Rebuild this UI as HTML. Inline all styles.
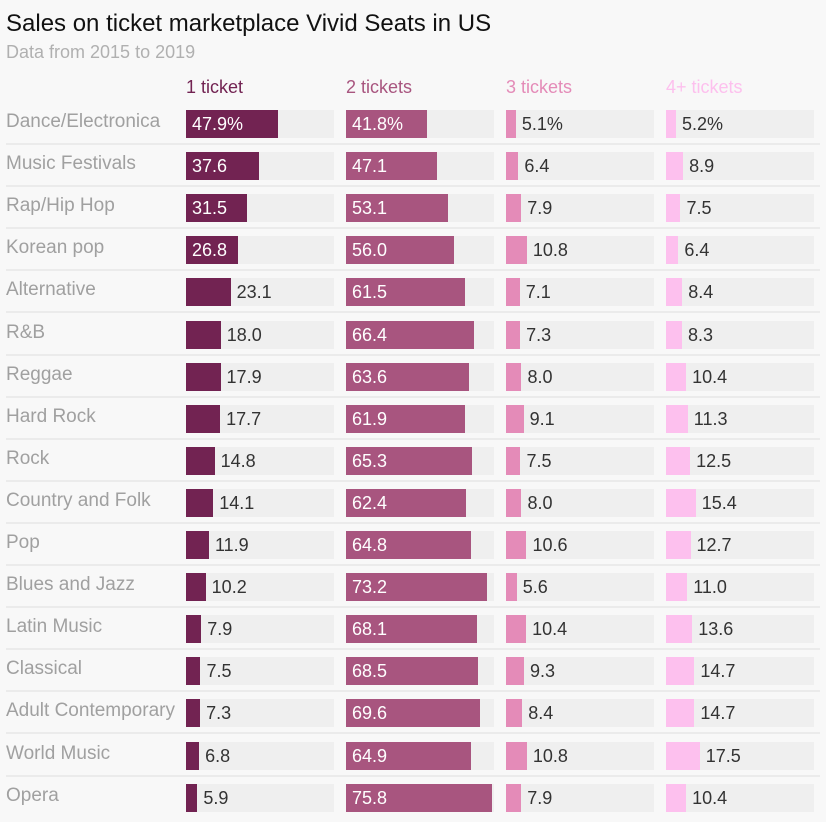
<!DOCTYPE html>
<html><head><meta charset="utf-8"><style>
body{margin:0;background:#f8f8f8;font-family:"Liberation Sans",sans-serif;}
#c{position:relative;width:826px;height:822px;overflow:hidden;}
.t{position:absolute;white-space:nowrap;}
</style></head><body>
<div id="c">
<div class="t" style="left:6px;top:10px;font-size:24px;color:#111;">Sales on ticket marketplace Vivid Seats in US</div>
<div class="t" style="left:6px;top:42px;font-size:18px;color:#b0b0b0;">Data from 2015 to 2019</div>
</div>
<script>
const categories=["Dance/Electronica","Music Festivals","Rap/Hip Hop","Korean pop","Alternative","R&B","Reggae","Hard Rock","Rock","Country and Folk","Pop","Blues and Jazz","Latin Music","Classical","Adult Contemporary","World Music","Opera"];
const seriesNames=["1 ticket","2 tickets","3 tickets","4+ tickets"];
const oneTicket=[47.9,37.6,31.5,26.8,23.1,18.0,17.9,17.7,14.8,14.1,11.9,10.2,7.9,7.5,7.3,6.8,5.9];
const twoTickets=[41.8,47.1,53.1,56.0,61.5,66.4,63.6,61.9,65.3,62.4,64.8,73.2,68.1,68.5,69.6,64.9,75.8];
const threeTickets=[5.1,6.4,7.9,10.8,7.1,7.3,8.0,9.1,7.5,8.0,10.6,5.6,10.4,9.3,8.4,10.8,7.9];
const fourTickets=[5.2,8.9,7.5,6.4,8.4,8.3,10.4,11.3,12.5,15.4,12.7,11.0,13.6,14.7,14.7,17.5,10.4];
const series=[oneTicket,twoTickets,threeTickets,fourTickets];
const colors=["#722352","#a8557f","#e48bb8","#fdc0ee"];
const headColors=["#722352","#a8557f","#e48bb8","#fdc0ee"];
const c=document.getElementById('c');
const colX=[186,346,506,666], trackW=148, pxPer=1.93;
const rowY=i=>110+i*42.1;
function x(v){return v*pxPer;}
function div(st,txt){const d=document.createElement('div');d.style.cssText='position:absolute;'+st;if(txt!=null)d.textContent=txt;c.appendChild(d);return d;}
seriesNames.forEach((n,j)=>{
 const h=div('left:'+colX[j]+'px;top:77px;font-size:18px;white-space:nowrap;color:'+headColors[j],n);
 
 
});
categories.forEach((cat,i)=>{
 const y=rowY(i);
 const l=div('left:6px;top:'+(y+1)+'px;font-size:19px;color:#a0a0a0;white-space:nowrap;',cat);
 
 
 if(i<categories.length-1){
  const s=div('left:6px;top:'+(y+33)+'px;width:814px;height:2px;background:#ebebeb;');
  
  
 }
 series.forEach((arr,j)=>{
  const v=arr[i];
  const tr=div('left:'+colX[j]+'px;top:'+y+'px;width:'+trackW+'px;height:28px;background:#efefef;');
  
  
  const w=x(v);
  const b=div('left:'+colX[j]+'px;top:'+y+'px;width:'+w+'px;height:28px;background:'+colors[j]+';');
  
  
  const txt=v.toFixed(1)+(i===0?'%':'');
  const inside=w>=50;
  const t=div('left:'+(colX[j]+(inside?6:w+6))+'px;top:'+(y+4)+'px;font-size:18px;white-space:nowrap;color:'+(inside?'#fff':'#333')+';',txt);
  
  
 });
});
</script>
</body></html>
